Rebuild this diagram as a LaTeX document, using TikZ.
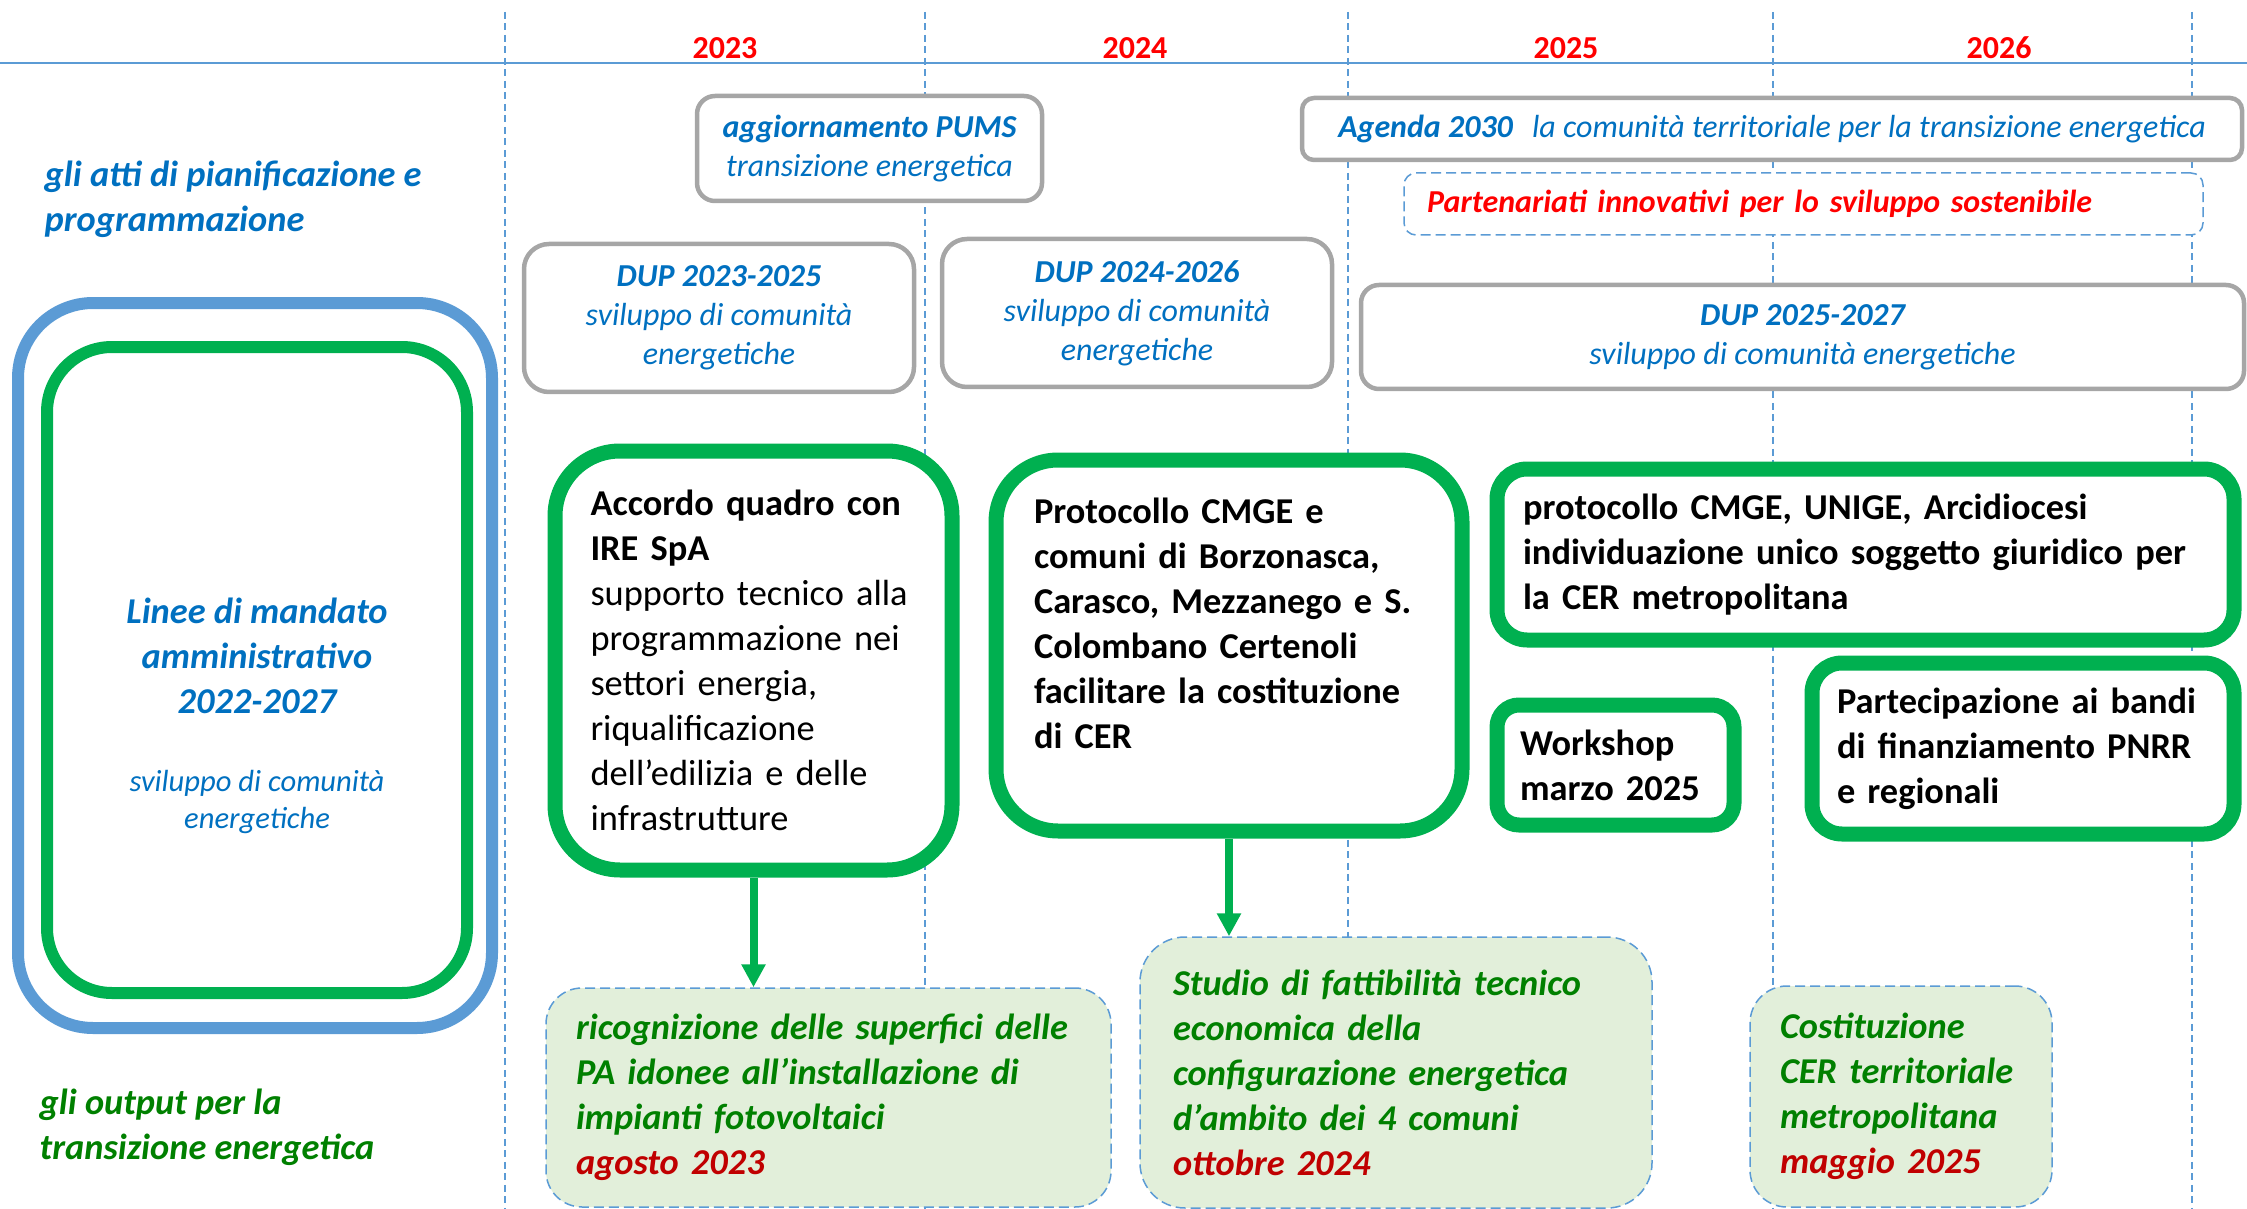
\documentclass[tikz,border=0pt]{standalone}
\usepackage{fontspec}
\setmainfont{Carlito}
\usepackage{tikz}
\usetikzlibrary{arrows.meta}
\definecolor{bluetesto}{HTML}{0070C0}
\definecolor{rosso}{HTML}{FF0000}
\definecolor{rossoscuro}{HTML}{C00000}
\definecolor{verdebordo}{HTML}{00B050}
\definecolor{verdetesto}{HTML}{008000}
\definecolor{azzurro}{HTML}{5B9BD5}
\definecolor{grigio}{HTML}{A6A6A6}
\definecolor{verdino}{HTML}{E2EFDA}
\newcommand{\fgrande}{\fontsize{10.35pt}{12.8pt}\selectfont}
\newcommand{\fmedio}{\fontsize{9.1pt}{11.1pt}\selectfont}
\newcommand{\fpiccolo}{\fontsize{8.7pt}{10.5pt}\selectfont}
\tikzstyle{anno} = [text=rosso, font=\fmedio\bfseries, anchor=base]
\tikzstyle{titolo} = [anchor=north west, align=left, font=\fgrande\bfseries\itshape, inner sep=0pt]
\tikzstyle{boxgrigio} = [draw=grigio, line width=0.45mm, rounded corners=2mm, fill=white,
    text=bluetesto, align=center, font=\fmedio\itshape, inner sep=0pt]
\tikzstyle{boxverde} = [draw=verdebordo, line width=1.5mm, rounded corners=3mm, fill=white,
    align=left, font=\fgrande, inner sep=0pt]
\tikzstyle{boxoutput} = [draw=azzurro, line width=0.15mm, dash pattern=on 1mm off 0.5mm,
    rounded corners=4mm, fill=verdino, align=left, text=verdetesto,
    font=\fgrande\bfseries\itshape, inner sep=0pt]
\tikzstyle{lineatempo} = [draw=azzurro, line width=0.14mm, dash pattern=on 0.7mm off 0.45mm]
\tikzstyle{freccia} = [draw=verdebordo, line width=0.8mm, -{Triangle[width=2.3mm,length=2.3mm]}]

\begin{document}
\begin{tikzpicture}[x=0.1mm, y=-0.1mm]
    \useasboundingbox (0,0) rectangle (2247,1209);
    \draw[azzurro, line width=0.2mm] (0,63) -- (2247,63);
    \foreach \x in {505,925,1348,1773,2192}
        \draw[lineatempo] (\x,12) -- (\x,1209);
    \node[anno] (a2023) at (725,59) {2023};
    \node[anno] (a2024) at (1135,59) {2024};
    \node[anno] (a2025) at (1566,59) {2025};
    \node[anno] (a2026) at (1999,59) {2026};

    \node[titolo, text=bluetesto] (atti) at (44,160) {gli atti di pianificazione e\\programmazione};
    \node[titolo, text=verdetesto] (output) at (39,1088) {gli output per la\\transizione energetica};

    % linee di mandato
    \node[draw=azzurro, line width=1.2mm, rounded corners=7.5mm, minimum width=47.4mm,
        minimum height=72.5mm] (mandato) at (255,665.5) {};
    \node[draw=verdebordo, line width=1.2mm, rounded corners=6.5mm, minimum width=42mm,
        minimum height=64.6mm] (linee) at (257,670) {};
    \node[anchor=north, align=center, text=bluetesto, font=\fgrande\bfseries\itshape,
        inner sep=0pt] (lineetitolo) at (257,597) {Linee di mandato\\amministrativo\\2022-2027};
    \node[anchor=north, align=center, text=bluetesto, font=\fpiccolo\itshape,
        inner sep=0pt] (lineesviluppo) at (257,770) {sviluppo di comunità\\energetiche};

    % atti
    \node[boxgrigio, minimum width=34.5mm, minimum height=10.5mm, rounded corners=1.8mm] (pums)
        at (869.5,148.5) {\textbf{aggiornamento PUMS}\\transizione energetica};
    \node[boxgrigio, minimum width=39mm, minimum height=14.8mm, rounded corners=2.5mm] (dup23)
        at (719,318) {\textbf{DUP 2023-2025}\\sviluppo di comunità\\energetiche};
    \node[boxgrigio, minimum width=39mm, minimum height=14.8mm, rounded corners=2.5mm] (dup24)
        at (1137,313) {\textbf{DUP 2024-2026}\\sviluppo di comunità\\energetiche};
    \node[boxgrigio, minimum width=94mm, minimum height=6.2mm, rounded corners=1.2mm] (agenda)
        at (1772,129) {\textbf{Agenda 2030}\hspace{0.6em}la comunità territoriale per la transizione energetica};
    \node[draw=azzurro, line width=0.15mm, dash pattern=on 1mm off 0.5mm, rounded corners=1.2mm,
        fill=white, minimum width=79.9mm, minimum height=6.2mm, text width=75.3mm, align=left,
        text=rosso, font=\fmedio\bfseries\itshape, inner sep=0pt] (partenariati)
        at (1803.5,204) {Partenariati innovativi per lo sviluppo sostenibile};
    \node[boxgrigio, minimum width=88.3mm, minimum height=10.4mm, rounded corners=1.8mm] (dup25)
        at (1802.5,337) {\textbf{DUP 2025-2027}\\sviluppo di comunità energetiche};

    % accordi e protocolli
    \node[boxverde, minimum width=39.7mm, minimum height=41.9mm, text width=32.6mm,
        rounded corners=6.5mm] (accordo) at (753.5,660.5)
        {\textbf{Accordo quadro con}\\\textbf{IRE SpA}\\supporto tecnico alla\\programmazione nei\\settori energia,\\riqualificazione\\dell’edilizia e delle\\infrastrutture};
    \node[boxverde, font=\fgrande\bfseries, minimum width=46.6mm, minimum height=37.1mm,
        text width=39mm, rounded corners=6.2mm] (protocollo) at (1229,645.5)
        {Protocollo CMGE e\\comuni di Borzonasca,\\Carasco, Mezzanego e S.\\Colombano Certenoli\\facilitare la costituzione\\di CER\\\mbox{}};
    \node[boxverde, font=\fgrande\bfseries, minimum width=73.7mm, minimum height=17.1mm,
        text width=68.5mm] (unige) at (1865.5,554.5)
        {protocollo CMGE, UNIGE, Arcidiocesi\\individuazione unico soggetto giuridico per\\la CER metropolitana};
    \node[boxverde, font=\fgrande\bfseries, minimum width=23.7mm, minimum height=12mm,
        text width=19.1mm, rounded corners=2.2mm] (workshop) at (1615.5,765) {Workshop\\marzo 2025};
    \node[boxverde, font=\fgrande\bfseries, minimum width=42.2mm, minimum height=17.1mm,
        text width=37.2mm] (bandi) at (2023,748.5) {Partecipazione ai bandi\\di finanziamento PNRR\\e regionali};

    % output
    \node[boxoutput, rounded corners=3.6mm, minimum width=56.5mm, minimum height=21.9mm,
        text width=50.5mm] (ricognizione) at (828.5,1097.5)
        {ricognizione delle superfici delle\\PA idonee all’installazione di\\impianti fotovoltaici\\\textcolor{rossoscuro}{agosto 2023}};
    \node[boxoutput, rounded corners=4.5mm, minimum width=51.2mm, minimum height=27.1mm,
        text width=44.6mm] (studio) at (1396,1072.5)
        {Studio di fattibilità tecnico\\economica della\\configurazione energetica\\d’ambito dei 4 comuni\\\textcolor{rossoscuro}{ottobre 2024}};
    \node[boxoutput, rounded corners=3.7mm, minimum width=30.2mm, minimum height=22.1mm,
        text width=24.2mm] (costituzione) at (1901,1096.5)
        {Costituzione\\CER territoriale\\metropolitana\\\textcolor{rossoscuro}{maggio 2025}};

    \draw[freccia] (accordo.south) -- (accordo.south |- ricognizione.north);
    \draw[freccia] (protocollo.south) -- (protocollo.south |- studio.north);
\end{tikzpicture}
\end{document}
